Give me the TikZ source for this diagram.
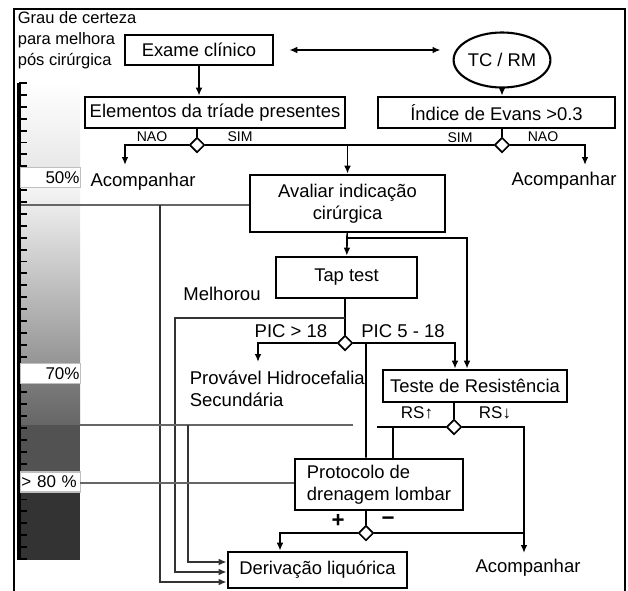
\documentclass[tikz,border=0pt]{standalone}
\usepackage{fontspec}
\setmainfont{Liberation Sans}
\usetikzlibrary{arrows.meta,shapes.geometric}

\tikzset{
	box/.style={draw, line width=2.2pt, inner sep=2pt, align=center, font=\fontsize{15.7}{18.5}\selectfont},
	txt/.style={inner sep=0pt, font=\fontsize{15.8}{19}\selectfont},
	small/.style={inner sep=0pt, font=\fontsize{12}{13}\selectfont},
	dec/.style={diamond, draw, fill=white, line width=1.4pt, inner sep=0pt, minimum size=0.45cm},
	pct/.style={draw=black!25, fill=white, inner ysep=0pt, inner xsep=1pt, text width=1.74cm, minimum height=0.6cm, font=\fontsize{14.5}{16}\selectfont},
	scl/.style={draw=black!60, line width=1.2pt},
	vrt/.style={draw=black!80, line width=1.4pt},
}

\begin{document}
\begin{tikzpicture}[x=0.03cm, y=-0.03cm, line width=1.4pt, >={Latex[length=2.4mm,width=2mm]}]
	\useasboundingbox (0,0) rectangle (628,590);
	\draw[line width=1.2pt] (14,592) -- (14,9) -- (625,9) -- (625,592);
	\node (titulo) at (17,11) [anchor=north west, inner sep=0pt, align=left, font=\fontsize{14.1}{18}\selectfont] {Grau de certeza\\para melhora\\pós cirúrgica};

	\shade[top color=white, bottom color=blue!4!black!9] (21,83) rectangle (80,167);
	\shade[top color=black!4, bottom color=black!42] (21,188) rectangle (80,365);
	\shade[top color=black!52, bottom color=black!60] (21,382) rectangle (80,425);
	\fill[black!68] (21,425) rectangle (80,472);
	\fill[black!80] (21,492) rectangle (80,560);
	\foreach \i in {0,...,40}
		\draw[line width=1.6pt] (19,83+\i*11.9) -- ++(8,0);
	\draw[line width=3pt] (19,83) -- (19,560);
	\node (p50) at (50.5,177.5) [pct, align=right] {50\%};
	\node (p70) at (50.5,373.5) [pct, align=right] {70\%};
	\node (p80) at (50.5,482) [pct, align=left] {> 80 \%};

	\node (exame) at (199,50) [box, minimum width=4.44cm, minimum height=0.9cm] {Exame clínico};
	\node (tcrm) at (502,60) [ellipse, draw, line width=1.8pt, inner sep=0pt, minimum width=2.73cm, minimum height=1.65cm, font=\fontsize{15.7}{18}\selectfont] {TC / RM};
	\node (triade) at (215,112.5) [box, minimum width=7.8cm, minimum height=0.93cm] {Elementos da tríade presentes};
	\node (evans) at (496.5,112.5) [box, minimum width=7.11cm, minimum height=0.93cm] {Índice de Evans >0.3};
	\node (avaliar) at (347.5,203.5) [box, minimum width=5.85cm, minimum height=1.71cm] {Avaliar indicação\\cirúrgica};
	\node (tap) at (346.5,277.5) [box, minimum width=4.23cm, minimum height=1.23cm] {Tap test};
	\node (teste) at (475,386) [box, minimum width=5.52cm, minimum height=0.96cm] {Teste de Resistência};
	\node (protocolo) at (379,484.5) [box, align=left, minimum width=5.04cm, minimum height=1.53cm] {Protocolo de\\drenagem lombar};
	\node (deriv) at (317.5,570) [box, minimum width=5.37cm, minimum height=1.08cm] {Derivação liquórica};

	\node (d1) at (197,145) [dec] {};
	\node (d2) at (502,145) [dec] {};
	\node (d3) at (345,343) [dec] {};
	\node (d4) at (454,427) [dec] {};
	\node (d5) at (366,533) [dec] {};

	\node (acomp1) at (143,182) [txt] {Acompanhar};
	\node (acomp2) at (564,181) [txt] {Acompanhar};
	\node (acomp3) at (528,568) [txt] {Acompanhar};
	\node (melhorou) at (222,294) [txt] {Melhorou};
	\node (hidro) at (189,389) [txt, anchor=west, align=left] {Provável Hidrocefalia\\Secundária};

	\node (nao1) at (152,137) [small] {NAO};
	\node (sim1) at (240,137) [small] {SIM};
	\node (sim2) at (460,138) [small] {SIM};
	\node (nao2) at (543,137) [small] {NAO};
	\node (pic1) at (291,331) [txt] {PIC > 18};
	\node (pic2) at (403,331) [txt] {PIC 5 - 18};
	\node (rsup) at (417,413) [txt, font=\fontsize{14.5}{16}\selectfont] {RS↑};
	\node (rsdn) at (495,413) [txt, font=\fontsize{14.5}{16}\selectfont] {RS↓};
	\node (mais) at (338,521) [txt, font=\fontsize{19}{20}\bfseries] {+};
	\node (menos) at (388,521) [txt, font=\fontsize{19}{20}\bfseries] {−};

	\coordinate (a1) at (125,165);
	\coordinate (a2) at (585,165);
	\coordinate (a3) at (258,362);
	\coordinate (a4) at (524,553);
	\coordinate (l50) at (21,205);
	\coordinate (j50) at (160,205);
	\coordinate (jm) at (345,318);
	\coordinate (jmx) at (175,318);
	\coordinate (l70) at (80,425);
	\coordinate (l70e) at (353,425);
	\coordinate (j70) at (188,425);
	\coordinate (j4) at (377,427);
	\coordinate (l80) at (80,483);

	\draw[<->] ([xshift=0.45cm]exame.east) to ([xshift=-0.36cm]exame.east -| tcrm.west);
	\draw[->] (exame) to (exame.south |- triade.north);
	\draw[->] (tcrm) to (tcrm.south |- evans.north);
	\draw (triade.south -| d1) to (d1);
	\draw (evans.south -| d2) to (d2);
	\draw[->] (d1) -| (a1);
	\draw (d1) to (d2);
	\draw[->] (d1 -| avaliar.north) to (avaliar);
	\draw[->] (d2) -| (a2);

	\draw[scl] (l50) to (l50 -| avaliar.west);
	\draw[vrt, ->] (j50) |- ([yshift=-0.36cm]deriv.west);
	\draw[->] (avaliar) to (tap);
	\draw[->] (avaliar.south) -- ++(0,5) -| ([xshift=-0.24cm]teste.north);
	\draw (tap.south -| d3) to (d3);
	\draw[vrt, ->] (jm) -- (jmx) |- ([yshift=-0.06cm]deriv.west);
	\draw[->] (d3) -| (a3);
	\draw[->] (d3) -| ([xshift=-0.6cm]teste.north);
	\draw ([xshift=0.63cm]d3.center) to ([xshift=-0.39cm]protocolo.north);

	\draw (teste.south -| d4) to (d4);
	\draw[->] (d4) -| (a4);
	\draw (d4) to (j4);
	\draw ([xshift=0.42cm]protocolo.north) to ([xshift=0.42cm]protocolo.north |- d4);
	\draw[scl] (l70) to (l70e);
	\draw[vrt, ->] (j70) |- ([yshift=0.24cm]deriv.west);
	\draw[scl] (l80) to (l80 -| protocolo.west);
	\draw (protocolo.south -| d5) to (d5);
	\draw[->] (d5) -| ([xshift=-1.125cm]deriv.north);
	\draw (d5) to (d5 -| a4);
\end{tikzpicture}
\end{document}
